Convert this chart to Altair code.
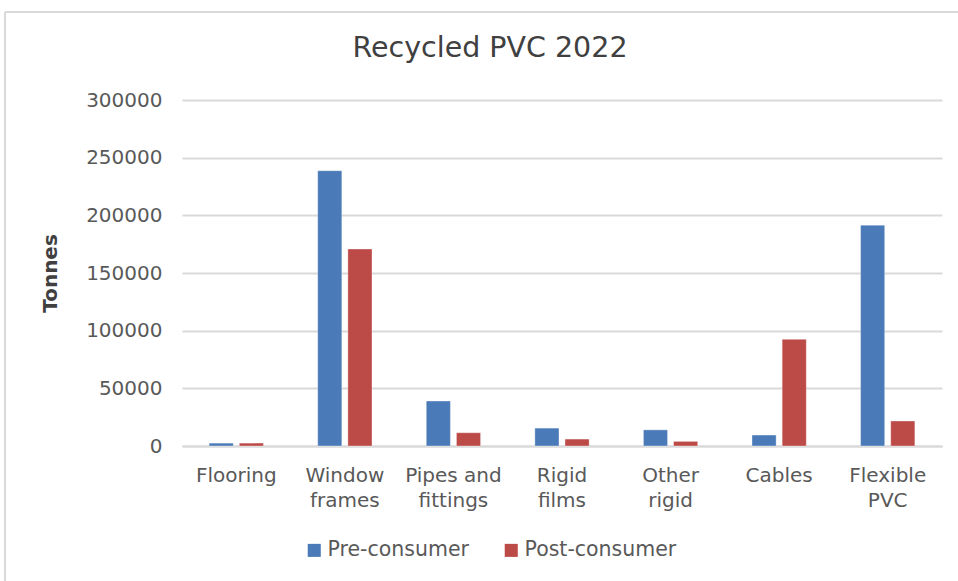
import altair as alt
import pandas as pd

categories = ["Flooring", "Window|frames", "Pipes and|fittings", "Rigid|films",
              "Other|rigid", "Cables", "Flexible|PVC"]
pre_consumer = [2500, 238700, 39000, 15500, 14000, 9500, 191500]
post_consumer = [2500, 170800, 11500, 6000, 4000, 92500, 21700]
series = ["Pre-consumer", "Post-consumer"]
y_ticks = [0, 50000, 100000, 150000, 200000, 250000, 300000]
title_text = "Recycled PVC 2022"

rows = []
for c, a, b in zip(categories, pre_consumer, post_consumer):
    rows.append({"cat": c, "series": series[0], "value": a})
    rows.append({"cat": c, "series": series[1], "value": b})
df = pd.DataFrame(rows)

FONT = "DejaVu Sans"
FS = 20

bars = alt.Chart(df).mark_bar(stroke="#ffffff", strokeOpacity=0.35, strokeWidth=1).encode(
    x=alt.X("cat:N", sort=categories,
            scale=alt.Scale(paddingInner=0.5, paddingOuter=0.25),
            axis=alt.Axis(title=None, labelExpr="split(datum.label, '|')",
                          labelAngle=0, labelFontSize=FS, labelColor="#595959",
                          labelPadding=19, labelLineHeight=25, labelBaseline="top",
                          ticks=False, domainColor="#d9d9d9", domainWidth=2,
                          labelFont=FONT)),
    xOffset=alt.XOffset("series:N", sort=series, scale=alt.Scale(paddingInner=0.2)),
    y=alt.Y("value:Q", scale=alt.Scale(domain=[0, 300000], nice=False),
            axis=alt.Axis(title="Tonnes", values=y_ticks, format="d",
                          labelFontSize=FS, labelColor="#595959", labelPadding=20,
                          labelFont=FONT, ticks=False, domain=False,
                          gridColor="#d9d9d9", gridWidth=2,
                          titleFontSize=20, titleFontWeight=600, titleColor="#404040",
                          titleFont=FONT, titleX=-122, titleY=173, titleAngle=-90,
                          titleAnchor="middle")),
    color=alt.Color("series:N", sort=series,
                    scale=alt.Scale(domain=series, range=["#4A7AB7", "#BC4A47"]),
                    legend=alt.Legend(title=None, orient="none", legendX=122, legendY=440,
                                      direction="horizontal", symbolType="square",
                                      symbolSize=170, symbolStrokeWidth=0,
                                      labelFontSize=20.5, labelColor="#595959",
                                      labelFont=FONT, columnPadding=32, labelOffset=3)),
)

title = alt.Chart().mark_text(font=FONT, fontSize=28.5, color="#404040",
                              align="center", baseline="middle").encode(
    text=alt.value(title_text), x=alt.value(308), y=alt.value(-52))

frame_v = alt.Chart().mark_rule(color="#d9d9d9", strokeWidth=2, clip=False).encode(
    x=alt.value(-177), y=alt.value(-88), y2=alt.value(490))
frame_h = alt.Chart().mark_rule(color="#d9d9d9", strokeWidth=2, clip=False).encode(
    x=alt.value(-177), x2=alt.value(800), y=alt.value(-88))

chart = alt.layer(bars, title, frame_v, frame_h).properties(
    width=760, height=346,
    autosize=alt.AutoSizeParams(type="none"),
    padding={"left": 182, "top": 100, "right": 16, "bottom": 135},
).configure_view(stroke=None)

chart.save("out.html", embed_options={"renderer": "svg", "actions": False})
